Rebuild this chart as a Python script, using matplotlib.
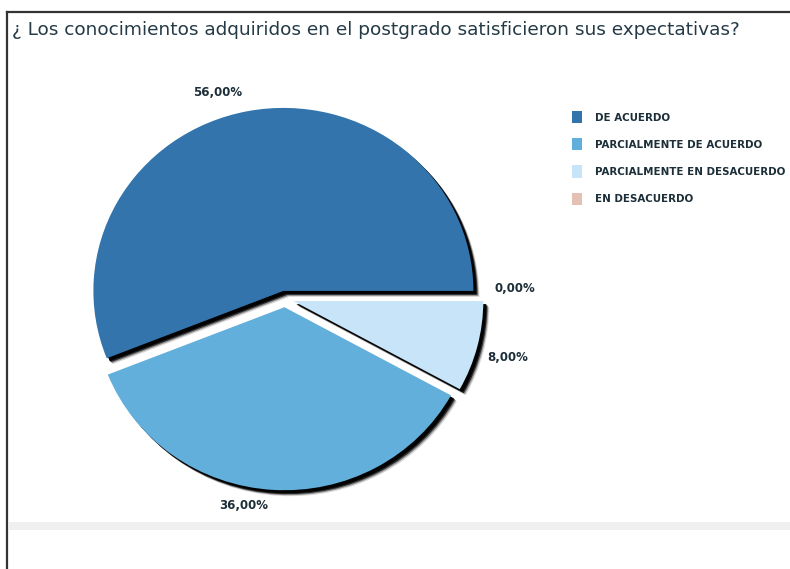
import matplotlib
matplotlib.use("Agg")
import matplotlib.pyplot as plt
from matplotlib.patches import Wedge, Rectangle
from matplotlib.lines import Line2D
from matplotlib.transforms import offset_copy

# Survey answers and their shares (%)
categories = ["DE ACUERDO", "PARCIALMENTE DE ACUERDO",
              "PARCIALMENTE EN DESACUERDO", "EN DESACUERDO"]
values = [56.0, 36.0, 8.0, 0.0]
colors = ["#3274ab", "#63afdc", "#c8e4f8", "#e5c0b4"]
title = "¿ Los conocimientos adquiridos en el postgrado satisficieron sus expectativas?"

W, H = 790, 569
fig = plt.figure(figsize=(W / 100, H / 100), dpi=100)
fig.patch.set_facecolor("white")

# Pie axes: centre at pixel (285, 299), ~190 px per unit horizontally, ~183 vertically
cx, cy, rx, ry = 285, 299, 190, 183
span = 1.5
ax = fig.add_axes([(cx - span * rx) / W, (H - cy - span * ry) / H,
                   2 * span * rx / W, 2 * span * ry / H])

label_texts = [f"{v:.2f}%".replace(".", ",") for v in values]
wedges, texts = ax.pie(values, colors=colors, labels=label_texts,
                       startangle=0, counterclock=True,
                       explode=[0.045] * len(values),
                       wedgeprops=dict(linewidth=0, zorder=3),
                       textprops=dict(fontsize=8.5, fontweight="bold",
                                      color="#1c2e38"))
ax.set_aspect("auto")
ax.set_xlim(-span, span)
ax.set_ylim(-span, span)
ax.axis("off")

# label positions (data units)
label_pos = [(-0.353, 1.126), (-0.216, -1.126), (1.174, -0.317), (1.211, 0.060)]
for t, (lx, ly) in zip(texts, label_pos):
    t.set_position((lx, ly))
    t.set_ha("center")
    t.set_va("center")

# soft black drop shadow under each wedge
for w in wedges:
    if w.theta2 - w.theta1 <= 0:
        continue
    for off, a in [(6, 0.15), (5, 0.35), (4, 0.7), (3, 0.95)]:
        tr = offset_copy(ax.transData, fig=fig, x=off, y=-off, units="dots")
        s = Wedge(w.center, w.r, w.theta1, w.theta2, facecolor="black",
                  edgecolor="none", alpha=a, transform=tr, zorder=2)
        ax.add_patch(s)

# title
fig.text(12 / W, 1 - 30 / H, title, fontsize=13.3, color="#243a46",
         ha="left", va="center")

# legend
handles = [Rectangle((0, 0), 1, 1, facecolor=c, edgecolor="none") for c in colors]
leg = fig.legend(handles, categories, loc="upper left",
                 bbox_to_anchor=(572 / W, 1 - 111 / H),
                 bbox_transform=fig.transFigure, frameon=False,
                 prop=dict(size=7.4, weight="bold"),
                 handlelength=0.95, handleheight=1.45, handletextpad=1.25,
                 labelspacing=1.46, borderaxespad=0, borderpad=0)
for t in leg.get_texts():
    t.set_color("#1c2e38")

# page frame and footer band
fig.add_artist(Line2D([7 / W, 7 / W], [0, 1 - 12 / H], color="#333333",
                      linewidth=1.6, transform=fig.transFigure))
fig.add_artist(Line2D([7 / W, 1], [1 - 12 / H, 1 - 12 / H], color="#333333",
                      linewidth=1.6, transform=fig.transFigure))
fig.add_artist(Rectangle((9 / W, 1 - 530 / H), 1, 8 / H, facecolor="#f0f0f0",
                         edgecolor="none", transform=fig.transFigure))

fig.savefig("out.png", dpi=100)
